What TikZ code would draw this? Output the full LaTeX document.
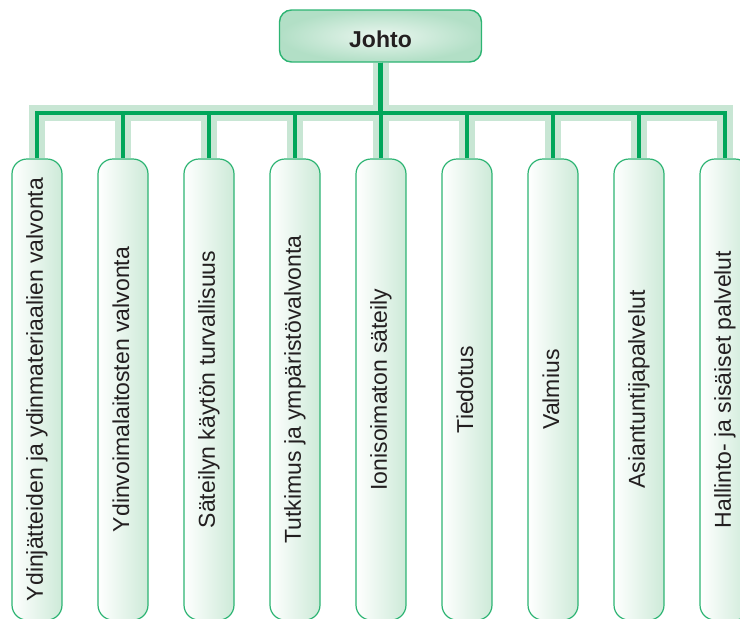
\documentclass[tikz,border=0pt]{standalone}
\usepackage{fontspec}
\setmainfont{Liberation Sans}
\usetikzlibrary{backgrounds}

\definecolor{linedark}{RGB}{0,166,90}
\definecolor{lineshade}{RGB}{200,230,212}
\definecolor{boxrim}{RGB}{45,180,115}
\definecolor{boxfill}{RGB}{205,234,216}
\definecolor{headfill}{RGB}{178,223,198}
\definecolor{headglow}{RGB}{234,246,239}
\definecolor{inkgrey}{RGB}{35,31,32}

\newcommand{\vlabel}[1]{\rotatebox{90}{\vrule height 16.5pt depth 4.5pt width 0pt #1}}

\begin{document}
\begin{tikzpicture}[x=1pt,y=-1pt,
    headbox/.style={draw=boxrim, line width=1.4pt, rounded corners=12pt,
      inner color=headglow, outer color=headfill,
      minimum width=202pt, minimum height=52pt, inner sep=0pt,
      font=\bfseries\fontsize{23}{26}\selectfont, text=inkgrey,
      text height=23.4pt, text depth=0pt},
    unitbox/.style={draw=boxrim, line width=1.2pt, rounded corners=15pt,
      left color=white, right color=boxfill,
      minimum width=50pt, minimum height=461pt, inner sep=0pt,
      font=\fontsize{23}{26}\selectfont, text=inkgrey},
    shadeline/.style={draw=lineshade, line width=16pt},
    mainline/.style={draw=linedark, line width=4.5pt}]
        \useasboundingbox (0,0) rectangle (740,619);
        \clip (0,0) rectangle (740,619);

        \node[headbox] (johto) at (380.5,36) {Johto};
        \coordinate (bus) at (0,113);

        % yksikot
        \foreach \name/\cx/\txt in {ydin/37/Ydinjätteiden ja ydinmateriaalien valvonta,
                                     voima/123/Ydinvoimalaitosten valvonta,
                                     kaytto/209/Säteilyn käytön turvallisuus,
                                     tutkimus/295/Tutkimus ja ympäristövalvonta,
                                     ionisoimaton/381/Ionisoimaton säteily,
                                     tiedotus/467/Tiedotus,
                                     valmius/553/Valmius,
                                     asiantuntija/639/Asiantuntijapalvelut,
                                     hallinto/725/Hallinto- ja sisäiset palvelut}
            \node[unitbox] (\name) at (\cx,389.5) {\vlabel{\txt}};

        \begin{pgfonlayer}{background}
            \foreach \name in {ydin,voima,kaytto,tutkimus,ionisoimaton,tiedotus,valmius,asiantuntija,hallinto}
                \draw[shadeline] (johto.south) -- (johto.south |- bus) -| (\name.north);
            \foreach \name in {ydin,voima,kaytto,tutkimus,ionisoimaton,tiedotus,valmius,asiantuntija,hallinto}
                \draw[mainline] (johto.south) -- (johto.south |- bus) -| (\name.north);
        \end{pgfonlayer}
    \end{tikzpicture}
\end{document}
